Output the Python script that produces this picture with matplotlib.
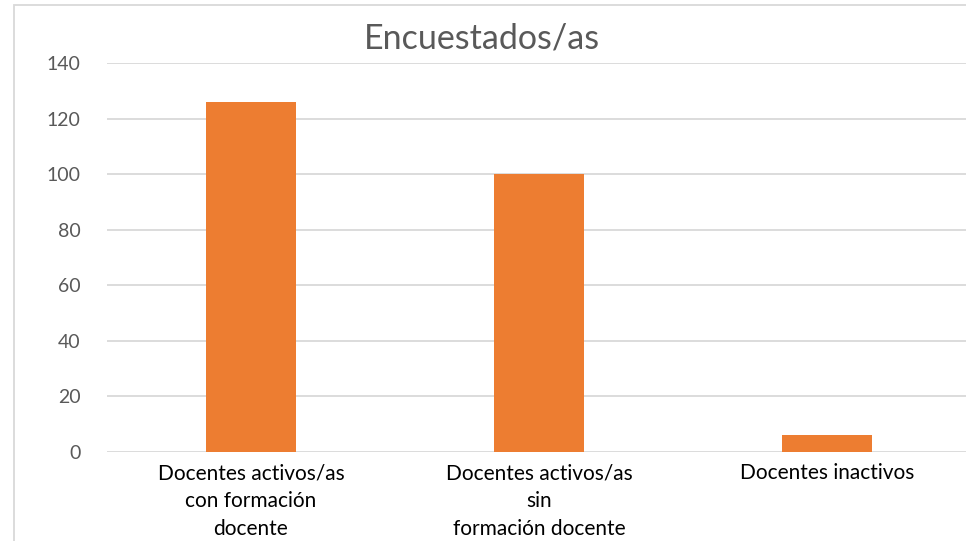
import matplotlib
matplotlib.use("Agg")
import matplotlib.pyplot as plt
from matplotlib.patches import Rectangle

categories = ["Docentes activos/as\ncon formación\ndocente",
              "Docentes activos/as\nsin\nformación docente",
              "Docentes inactivos"]
values = [126, 100, 6]
yticks = [0, 20, 40, 60, 80, 100, 120, 140]
title = "Encuestados/as"

plt.rcParams['font.family'] = ['Lato', 'DejaVu Sans']

W, H = 966, 541
fig = plt.figure(figsize=(W/100, H/100), dpi=100)
ax = fig.add_axes([107/W, 1-452/H, (971-107)/W, (452-63)/H])

x = list(range(len(categories)))
ax.bar(x, values, width=0.3125, color="#ED7D31", zorder=3)
ax.set_xlim(-0.5, len(categories)-0.5)
ax.set_ylim(0, 140)
ax.set_yticks(yticks)
ax.set_yticklabels([str(t) for t in yticks], fontsize=14, color="#595959")
ax.set_xticks(x)
ax.set_xticklabels(categories, fontsize=15, color="#000000", linespacing=1.5, va="top")
ax.tick_params(axis='both', length=0)
ax.tick_params(axis='y', pad=19)
ax.tick_params(axis='x', pad=8)
ax.grid(axis='y', color="#D9D9D9", linewidth=1.3, zorder=0)
for s in ax.spines.values():
    s.set_visible(False)

fig.text(482/W, 1-38/H, title, fontsize=24.5, color="#595959", ha="center", va="center")

fig.patches.append(Rectangle((14/W, -0.05), 1.2, 1-5/H+0.05, transform=fig.transFigure,
                             fill=False, edgecolor="#D9D9D9", linewidth=1.3))

fig.savefig("out.png", dpi=100)
